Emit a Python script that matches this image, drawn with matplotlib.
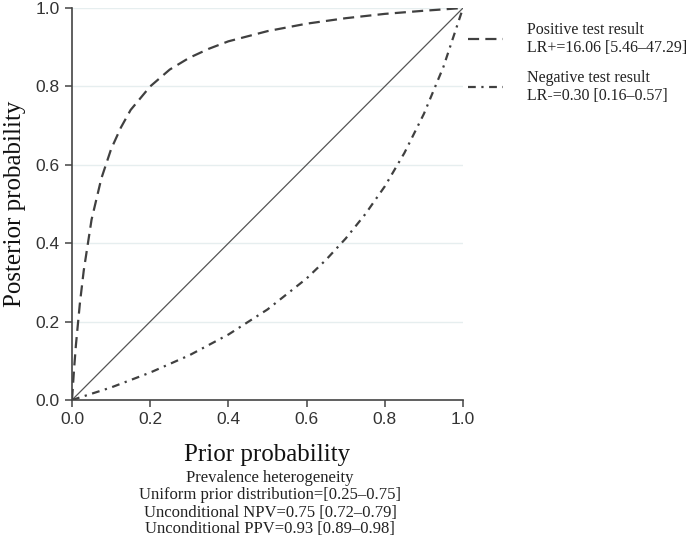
import matplotlib
matplotlib.use("Agg")
import matplotlib.pyplot as plt

# Data
prior_pos = [0.0, 0.005, 0.01, 0.02, 0.03, 0.05, 0.075, 0.1, 0.125, 0.15, 0.2, 0.25, 0.3, 0.35,
             0.4, 0.5, 0.6, 0.7, 0.8, 0.9, 1.0]
post_pos = [0.0, 0.075, 0.14, 0.245, 0.33, 0.46, 0.565, 0.64, 0.695, 0.74, 0.80, 0.843, 0.873, 0.896,
            0.915, 0.941, 0.96, 0.974, 0.985, 0.993, 1.0]

prior_neg = [0.0, 0.1, 0.2, 0.3, 0.4, 0.5, 0.6, 0.65, 0.7, 0.75, 0.8, 0.85, 0.9, 0.95, 1.0]
post_neg = [0.0, 0.032, 0.07, 0.114, 0.167, 0.231, 0.31, 0.358, 0.412, 0.474, 0.545, 0.63, 0.73, 0.85, 1.0]

ref_x = [0.0, 1.0]
ref_y = [0.0, 1.0]

ticks = [0.0, 0.2, 0.4, 0.6, 0.8, 1.0]
tick_labels = ["0.0", "0.2", "0.4", "0.6", "0.8", "1.0"]

label_pos = "Positive test result\nLR+=16.06 [5.46\u201347.29]"
label_neg = "Negative test result\nLR-=0.30 [0.16\u20130.57]"
caption = ["Prevalence heterogeneity",
           "Uniform prior distribution=[0.25\u20130.75]",
           "Unconditional NPV=0.75 [0.72\u20130.79]",
           "Unconditional PPV=0.93 [0.89\u20130.98]"]

serif = ["Liberation Serif", "DejaVu Serif"]
sans = ["Liberation Sans", "DejaVu Sans"]

fig = plt.figure(figsize=(7.0, 5.37), dpi=100)
ax = fig.add_axes([72/700, 1 - 400/537, (463-72)/700, (400-8)/537])

for y in ticks[1:]:
    ax.axhline(y, color="#e6eeef", lw=1.0, zorder=0)

ax.plot(ref_x, ref_y, color="#555555", lw=0.9, zorder=2)
l1, = ax.plot(prior_pos, post_pos, color="#404040", lw=1.6, dashes=(5, 2.8), zorder=3)
l2, = ax.plot(prior_neg, post_neg, color="#404040", lw=1.6, dashes=(3.5, 2.5, 1, 2.5), zorder=3)

ax.set_xlim(0, 1)
ax.set_ylim(0, 1)
ax.set_xticks(ticks)
ax.set_xticklabels(tick_labels)
ax.set_yticks(ticks)
ax.set_yticklabels(tick_labels)
for s in ["top", "right"]:
    ax.spines[s].set_visible(False)
for s in ["left", "bottom"]:
    ax.spines[s].set_color("#444444")
    ax.spines[s].set_linewidth(1.2)
ax.tick_params(direction="out", length=5, width=1.1, color="#444444",
               labelsize=12.5, labelcolor="#333333", pad=4)
for t in ax.get_xticklabels() + ax.get_yticklabels():
    t.set_family(sans)

ax.set_xlabel("Prior probability", family=serif, fontsize=18, color="#111111", labelpad=12)
ax.set_ylabel("Posterior probability", family=serif, fontsize=18, color="#111111", labelpad=7)

leg = fig.legend([l1, l2], [label_pos, label_neg], loc="upper left",
                 bbox_to_anchor=(468/700, 1 - 22/537), frameon=False, borderpad=0,
                 borderaxespad=0, handlelength=2.2, handletextpad=1.5, labelspacing=0.9,
                 prop={"family": serif, "size": 11.5})
for t in leg.get_texts():
    t.set_color("#222222")
    t.set_linespacing(1.15)

ys = [478, 495, 513, 529]
for txt, y in zip(caption, ys):
    fig.text(270/700, 1 - y/537, txt, ha="center", va="center", family=serif,
             fontsize=12, color="#222222")

fig.savefig("out.png", dpi=100)
